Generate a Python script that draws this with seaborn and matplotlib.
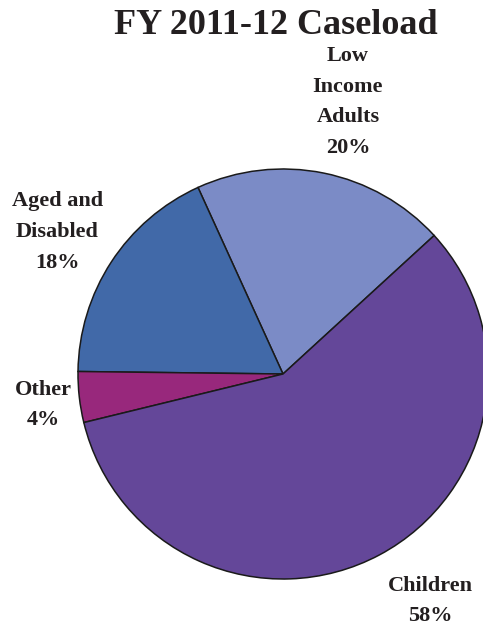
import matplotlib
matplotlib.use("Agg")
import matplotlib.pyplot as plt
import seaborn as sns

sns.set_theme(style="white")
plt.rcParams["font.family"] = ["Liberation Serif", "DejaVu Serif"]

# Caseload shares, drawn counter-clockwise from the Children / Low Income boundary
categories = ["Low\nIncome\nAdults", "Aged and\nDisabled", "Other", "Children"]
shares = [20, 18, 4, 58]
colors = ["#7B8BC6", "#4169A8", "#98287C", "#644799"]

# label anchor points in pie coordinates (radius = 1)
label_xy = [(0.317, 1.327), (-1.102, 0.693), (-1.171, -0.151), (0.717, -1.107)]

W, H = 483, 627
fig = plt.figure(figsize=(W / 100, H / 100), dpi=100)
cx, cy, r = 283, 374, 205
ax = fig.add_axes([(cx - r) / W, (H - cy - r) / H, 2 * r / W, 2 * r / H])

ax.pie(
    shares,
    colors=colors,
    startangle=42.5,
    counterclock=True,
    radius=1,
    wedgeprops=dict(edgecolor="#1a1a1a", linewidth=1.1),
)
ax.set_xlim(-1, 1)
ax.set_ylim(-1, 1)
ax.set_aspect("equal")
ax.axis("off")

for name, val, (x, y) in zip(categories, shares, label_xy):
    ax.text(
        x, y, f"{name}\n{val}%",
        ha="center", va="center", multialignment="center",
        fontsize=16, fontweight="bold", color="#231f20",
        linespacing=1.72, clip_on=False,
    )

fig.text(276 / W, 1 - 25 / H, "FY 2011-12 Caseload", ha="center", va="center",
         fontsize=26, fontweight="bold", color="#231f20")

fig.savefig("out.png", dpi=100)
